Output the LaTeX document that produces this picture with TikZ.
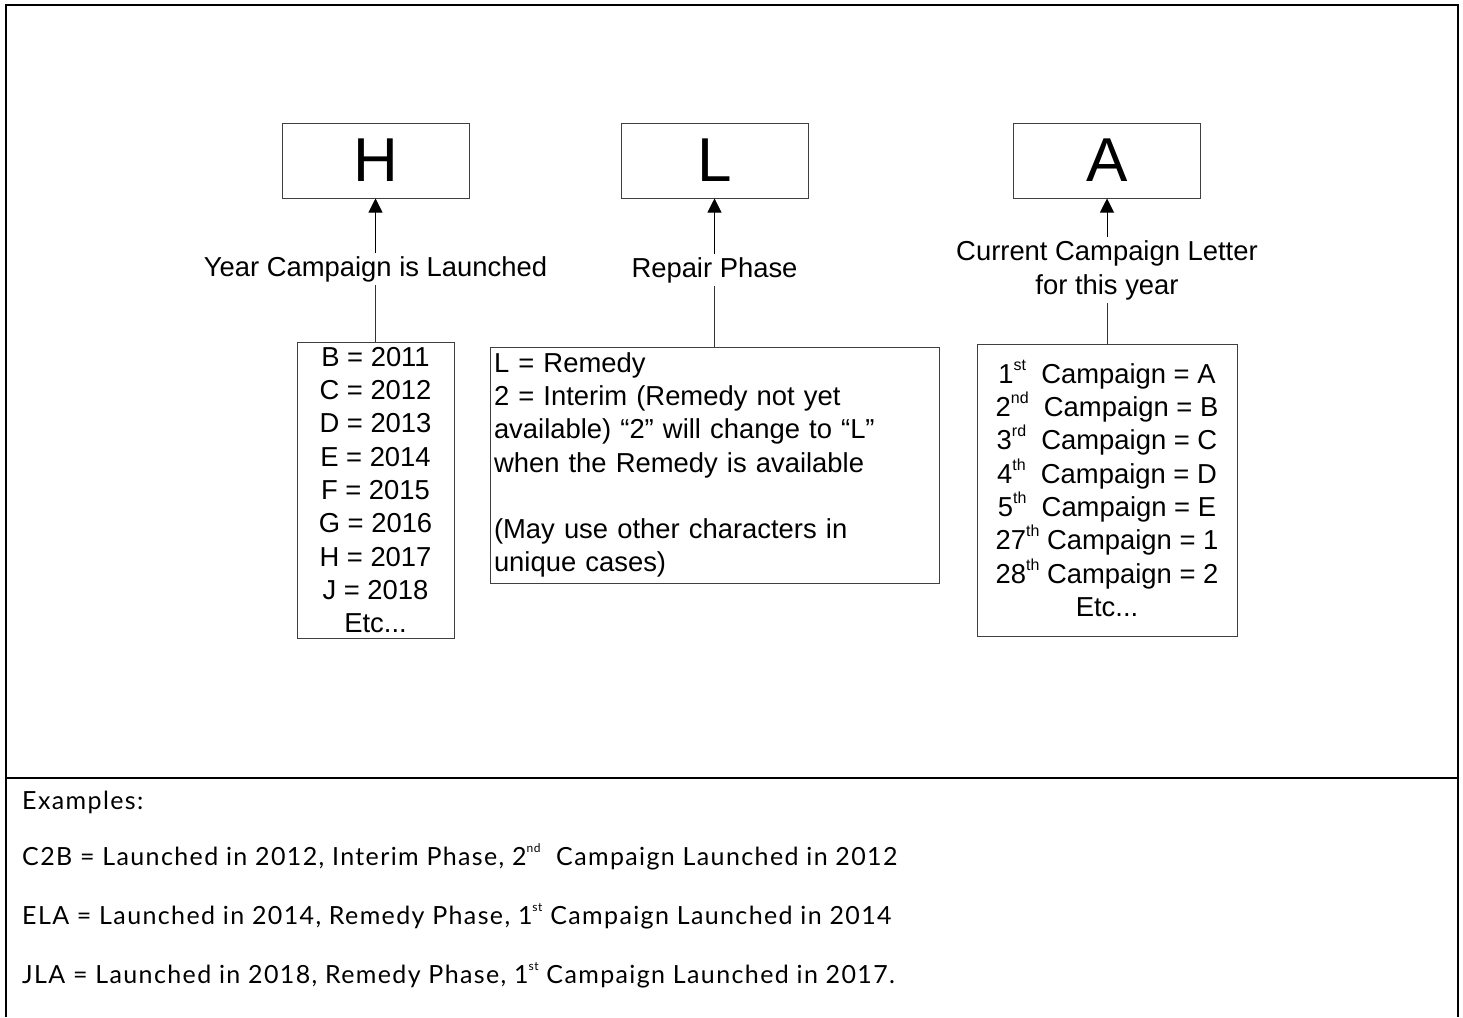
\documentclass[tikz,border=0pt]{standalone}
\usepackage{fontspec}
\setmainfont{Liberation Sans}
\newfontfamily\exfont[LetterSpace=5.5]{Lato}
\usetikzlibrary{arrows.meta}

\newcommand{\ordsup}[1]{\raisebox{0.47em}[0pt][0pt]{\fontsize{16}{16}\selectfont #1}}
\newcommand{\exsup}[1]{\raisebox{0.55em}[0pt][0pt]{\fontsize{12}{12}\selectfont #1}}

\begin{document}
\begin{tikzpicture}[x=1pt,y=-1pt,
  codebox/.style={draw=boxgray, line width=1pt, minimum width=187pt, minimum height=75pt, inner sep=0pt, font=\fontsize{62}{62}\selectfont},
  listbox/.style={draw=boxgray, line width=1pt, inner sep=0pt, align=center, font=\fontsize{27.4}{33.3}\selectfont},
  caption/.style={align=center, inner sep=3pt, font=\fontsize{27.4}{34}\selectfont},
  uparrow/.style={draw=black, line width=0.9pt, -{Triangle[length=14pt,width=14pt]}},
  link/.style={draw=linegray, line width=0.9pt},
  exline/.style={anchor=west, inner sep=0pt, font=\exfont\fontsize{25}{28}\selectfont}]

\definecolor{boxgray}{gray}{0.25}
\definecolor{linegray}{gray}{0.2}

\useasboundingbox (0,0) rectangle (1463,1017);

\def\xa{375.5}
\def\xb{714.5}
\def\xc{1107}

\draw[line width=2.5pt] (6,1017) -- (6,5) -- (1458,5) -- (1458,1017);
\draw[line width=2.5pt] (6,778) -- (1458,778);

\node[codebox] (yearbox) at (\xa,160.5) {H};
\node[codebox] (phasebox) at (\xb,160.5) {L};
\node[codebox] (letterbox) at (\xc,160.5) {A};

\node[caption] (yearlab) at (\xa,269) {Year Campaign is Launched};
\node[caption] (phaselab) at (\xb,270) {Repair Phase};
\node[caption] (letterlab) at (\xc,270) {Current Campaign Letter\\for this year};

\node[listbox, minimum width=157pt, minimum height=296pt] (yearlist) at (\xa,490)
  {B = 2011\\C = 2012\\D = 2013\\E = 2014\\F = 2015\\G = 2016\\H = 2017\\J = 2018\\Etc...};

\node[listbox, align=left, text width=441pt, inner xsep=4pt, minimum height=236pt] (phaselist) at (\xb,465)
  {L = Remedy\\2 = Interim (Remedy not yet\\available) “2” will change to “L”\\when the Remedy is available\\[33.3pt](May use other characters in\\unique cases)};

\node[listbox, minimum width=260pt, minimum height=292pt] (letterlist) at (\xc,490)
  {1\ordsup{st}\ \ Campaign = A\\2\ordsup{nd}\ \ Campaign = B\\3\ordsup{rd}\ \ Campaign = C\\4\ordsup{th}\ \ Campaign = D\\5\ordsup{th}\ \ Campaign = E\\27\ordsup{th} Campaign = 1\\28\ordsup{th} Campaign = 2\\Etc...};

\draw[uparrow] (yearlab.north) -- (yearbox.south);
\draw[uparrow] (phaselab.north) -- (phasebox.south);
\draw[uparrow] (letterlab.north) -- (letterbox.south);

\draw[link] (yearlab.south) -- (yearlist.north);
\draw[link] (phaselab.south) -- (phaselist.north);
\draw[link] (letterlab.south) -- (letterlist.north);

\node[exline] (ex0) at (22,802) {Examples:};
\node[exline] (ex1) at (22,859) {C2B = Launched in 2012, Interim Phase, 2\exsup{nd}\ \ Campaign Launched in 2012};
\node[exline] (ex2) at (22,918) {ELA = Launched in 2014, Remedy Phase, 1\exsup{st}\ Campaign Launched in 2014};
\node[exline] (ex3) at (22,977) {JLA = Launched in 2018, Remedy Phase, 1\exsup{st}\ Campaign Launched in 2017.};

\end{tikzpicture}
\end{document}
